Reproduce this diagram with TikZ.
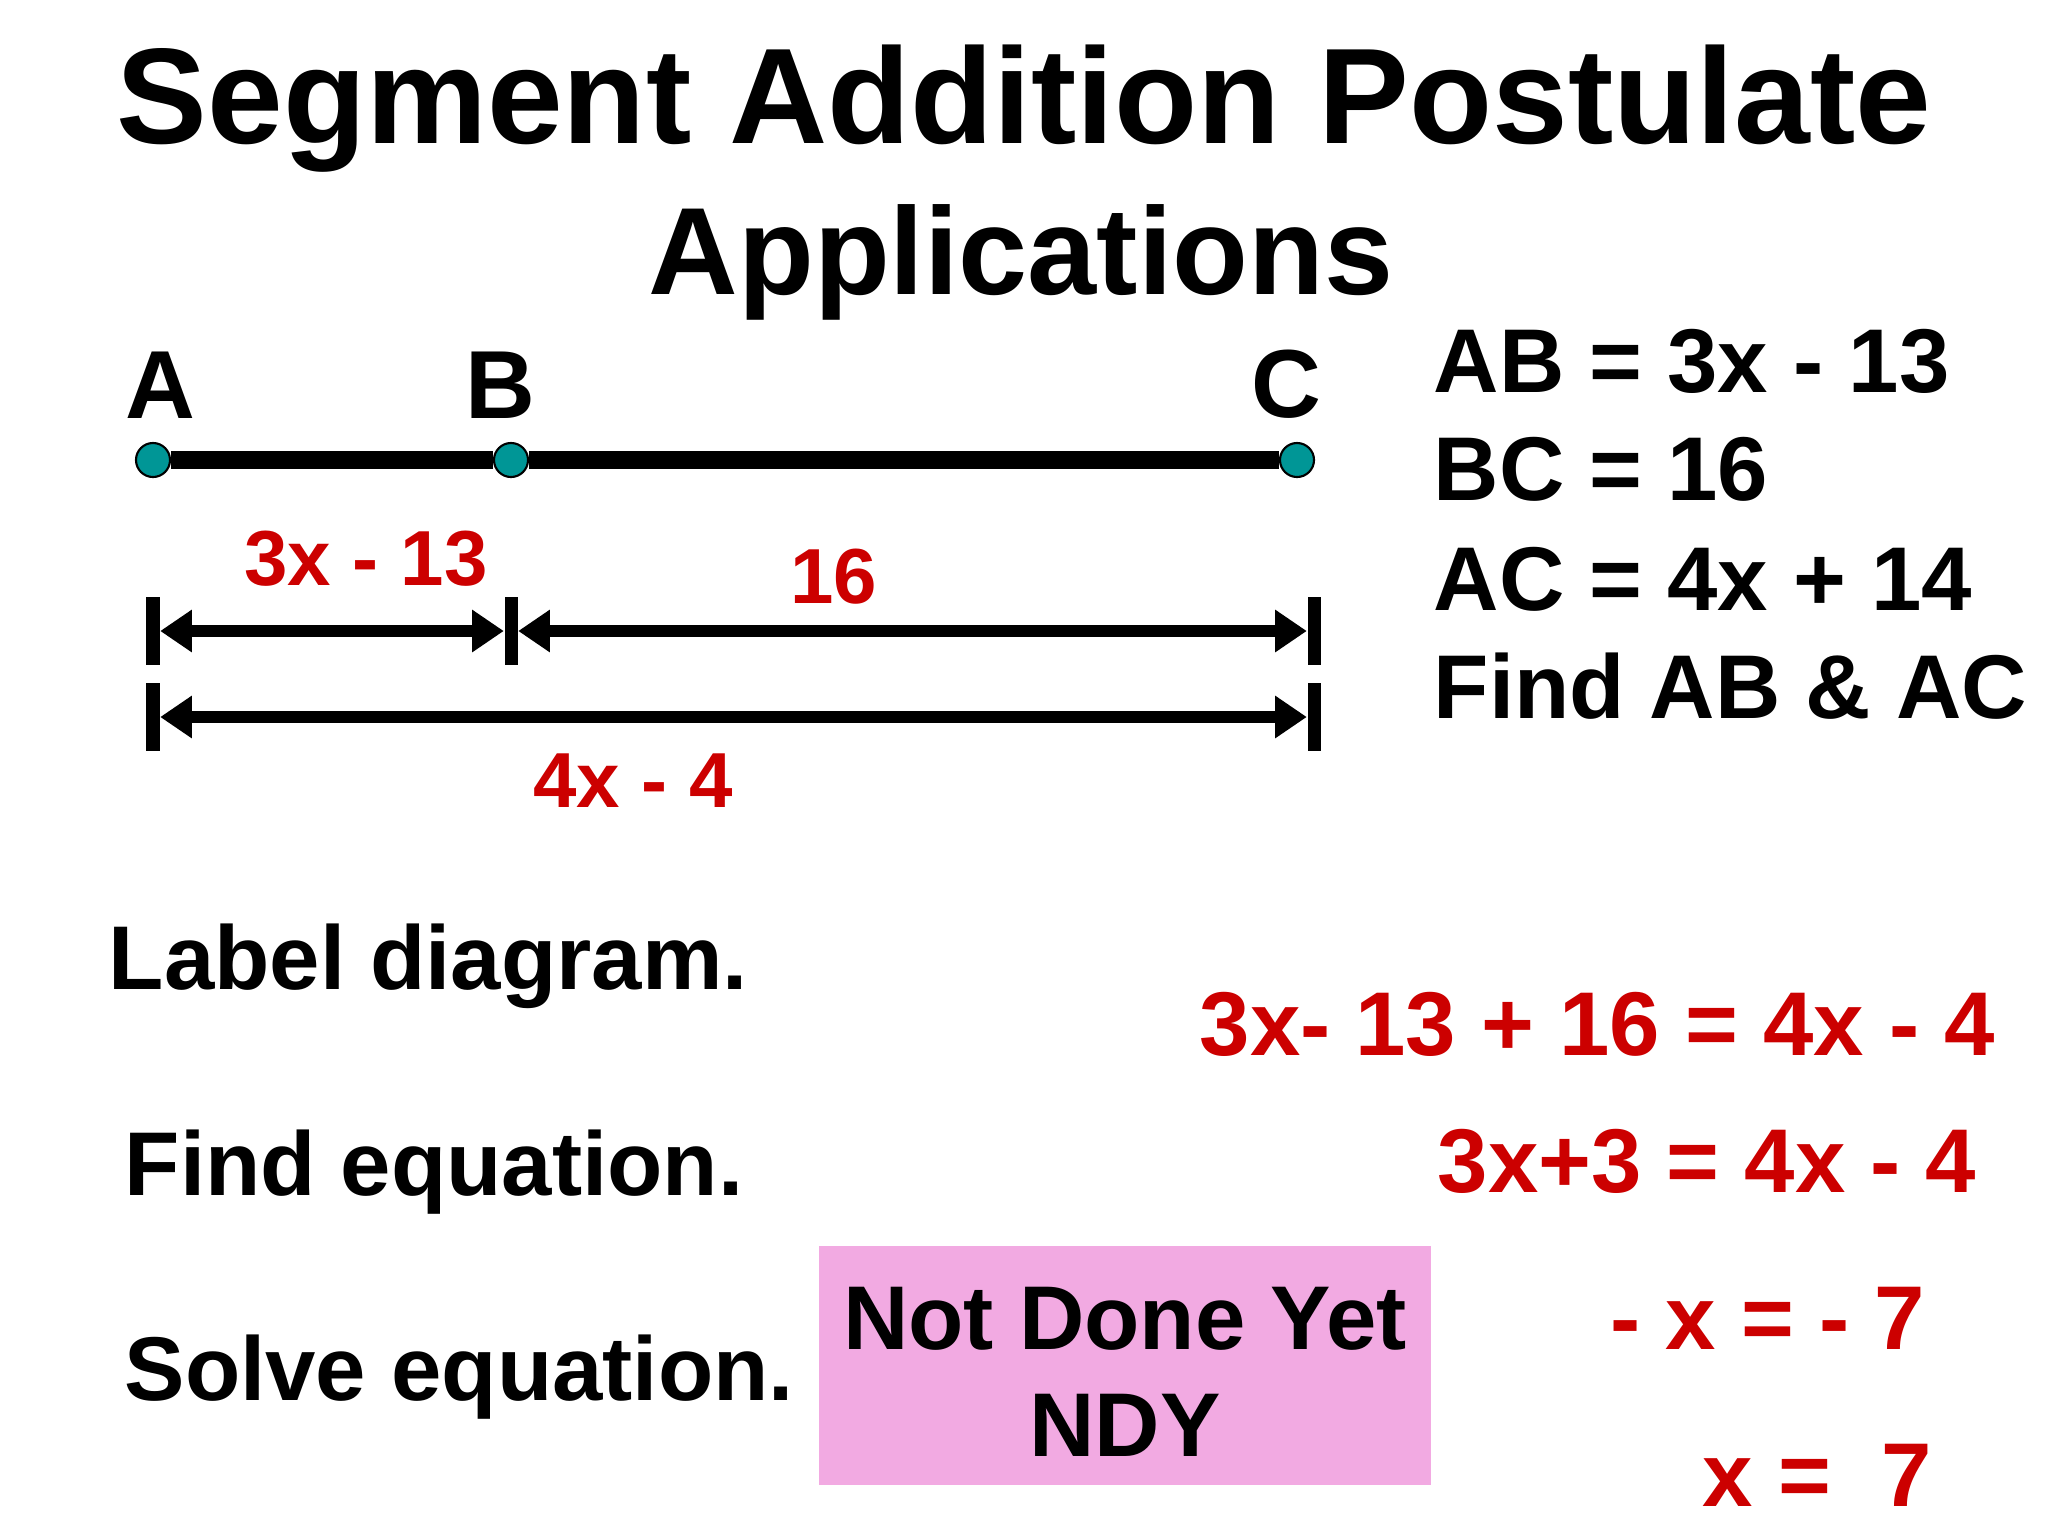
\documentclass[tikz,border=0pt]{standalone}
\usepackage{fontspec}
\setmainfont{Liberation Sans}
\usepackage{xcolor}
\usetikzlibrary{positioning, arrows.meta}

\definecolor{ptteal}{RGB}{0,150,150}
\definecolor{eqred}{RGB}{204,0,0}
\definecolor{ndypink}{RGB}{242,170,226}

\begin{document}
\begin{tikzpicture}[
    x=0.01cm, y=-0.01cm,
    bigtitle/.style={inner sep=0, font=\bfseries\fontsize{38.7}{46}\selectfont},
    subtitle/.style={inner sep=0, font=\bfseries\fontsize{35.3}{42}\selectfont},
    txt/.style={inner sep=0, font=\bfseries\fontsize{25.75}{31}\selectfont},
    redtxt/.style={txt, text=eqred},
    dimtxt/.style={inner sep=0, text=eqred, font=\bfseries\fontsize{22.2}{26}\selectfont},
    ptlabel/.style={inner sep=0, font=\bfseries\fontsize{27.5}{32}\selectfont},
    % Segment and points
    dot/.style={circle, draw=black, line width=0.6pt, fill=ptteal, minimum size=0.34cm, inner sep=0},
    seg/.style={line width=5pt},
    % Dimension lines
    tick/.style={rectangle, fill=black, minimum width=0.13cm, minimum height=0.68cm, inner sep=0},
    dim/.style={line width=3.4pt, {Triangle[length=9pt,width=11.5pt]}-{Triangle[length=9pt,width=11.5pt]}},
    ndybox/.style={rectangle, fill=ndypink, minimum width=6.12cm, minimum height=2.39cm, inner sep=0}
]

\fill[white] (0,0) rectangle (2048,1536);
\useasboundingbox (0,0) rectangle (2048,1536);

% Title
\node[bigtitle, anchor=base] (title) at (1024,143) {Segment Addition Postulate};
\node[subtitle, anchor=base] (apps) at (1021,294) {Applications};

% Points on the segment
\node[dot] (A) at (153,460) {};
\node[dot] (B) at (511,460) {};
\node[dot] (C) at (1297,460) {};
\draw[seg] (A) -- (B);
\draw[seg] (B) -- (C);

\node[ptlabel, above=0.23cm of A, xshift=0.07cm] (labA) {A};
\node[ptlabel, above=0.23cm of B, xshift=-0.11cm] (labB) {B};
\node[ptlabel, above=0.23cm of C, xshift=-0.11cm] (labC) {C};

% Dimension lines
\node[tick] (tA1) at (153,631) {};
\node[tick] (tB1) at (511,631) {};
\node[tick] (tC1) at (1314,631) {};
\node[tick] (tA2) at (153,717) {};
\node[tick] (tC2) at (1314,717) {};
\draw[dim] (tA1) -- (tB1);
\draw[dim] (tB1) -- (tC1);
\draw[dim] (tA2) -- (tC2);

\node[dimtxt, anchor=base] (lenAB) at (366,585) {3x - 13};
\node[dimtxt, anchor=base] (lenBC) at (834,603) {16};
\node[dimtxt, anchor=base] (lenAC) at (633,807) {4x - 4};

% Given values
\node[txt, anchor=base west] (giv1) at (1433,392) {AB = 3x - 13};
\node[txt, anchor=base west] (giv2) at (1433,500) {BC = 16};
\node[txt, anchor=base west] (giv3) at (1433,610) {AC = 4x + 14};
\node[txt, anchor=base west] (giv4) at (1433,718) {Find AB \& AC};

% Steps
\node[txt, anchor=base west] (step1) at (108,989) {Label diagram.};
\node[txt, anchor=base west] (step2) at (124,1195) {Find equation.};
\node[txt, anchor=base west] (step3) at (124,1400) {Solve equation.};

% Not done yet box
\node[ndybox] (ndy) at (1125,1365.5) {};
\node[txt, anchor=base] (ndy1) at (1125,1349) {Not Done Yet};
\node[txt, anchor=base] (ndy2) at (1125,1456) {NDY};

% Working
\node[redtxt, anchor=base west] (eq1) at (1199,1055) {3x- 13 + 16 = 4x - 4};
\node[redtxt, anchor=base west] (eq2) at (1437,1192) {3x+3 = 4x - 4};
\node[redtxt, anchor=base west] (eq3) at (1610,1349) {- x = - 7};
\node[redtxt, anchor=base west] (eq4) at (1702,1506) {x = \ 7};

\end{tikzpicture}
\end{document}
